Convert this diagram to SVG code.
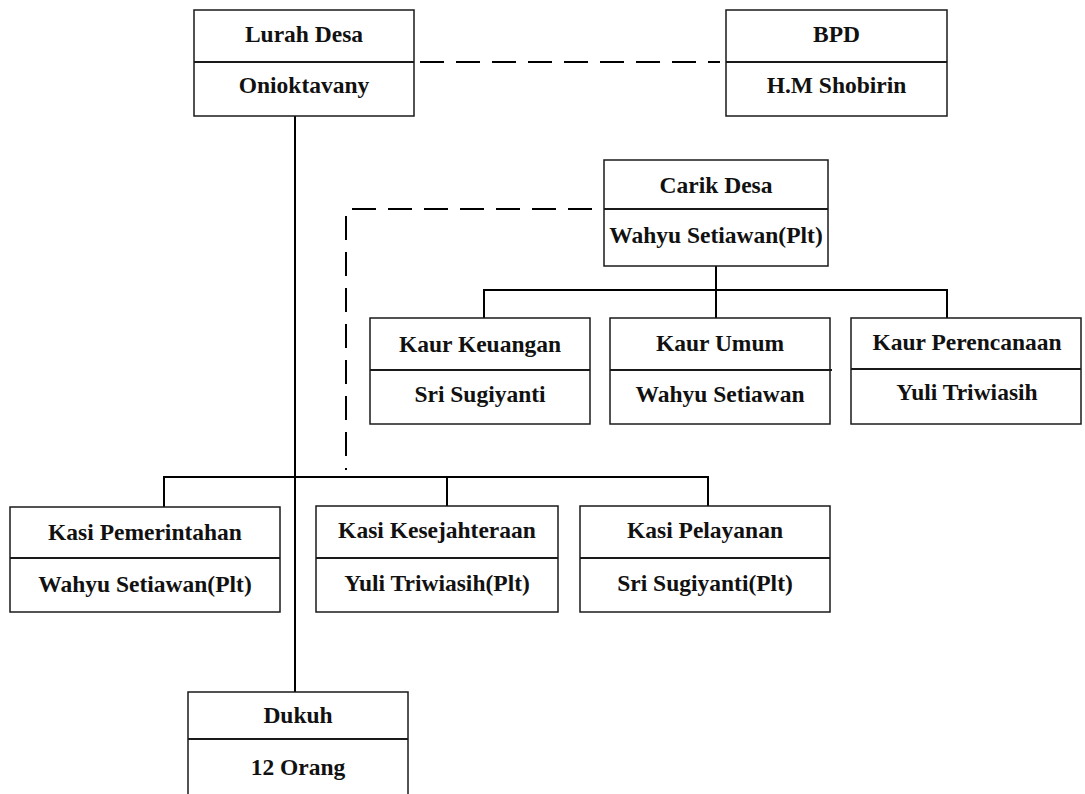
<svg xmlns="http://www.w3.org/2000/svg" width="1085" height="794" viewBox="0 0 1085 794">
<style>
.box{fill:#fff;stroke:#1a1a1a;stroke-width:1.5}
.div{stroke:#1a1a1a;stroke-width:2}
.t{font-family:"Liberation Serif","Times New Roman",serif;font-weight:bold;font-size:23.5px;fill:#111;text-anchor:middle}
.ln{stroke:#000;stroke-width:2;fill:none}
.dash{stroke:#000;stroke-width:2;fill:none;stroke-dasharray:24 12}
</style>
<rect width="1085" height="794" fill="#fff"/>
<g id="connectors">
<line class="dash" x1="420" y1="62" x2="720" y2="62"/>
<line class="ln" x1="295" y1="116" x2="295" y2="692"/>
<line class="dash" x1="592" y1="209" x2="347" y2="209"/>
<line class="dash" x1="346" y1="216" x2="346" y2="470"/>
<line class="ln" x1="716" y1="266" x2="716" y2="318"/>
<polyline class="ln" points="484,318 484,290 947,290 947,318"/>
<polyline class="ln" points="164,507 164,477 708,477 708,506"/>
<line class="ln" x1="447" y1="477" x2="447" y2="506"/>
</g>
<g id="lurah">
<rect class="box" x="194" y="10" width="220" height="106"/>
<line class="div" x1="194" y1="62" x2="414" y2="62"/>
<text class="t" x="304" y="42">Lurah Desa</text>
<text class="t" x="304" y="93">Onioktavany</text>
</g>
<g id="bpd">
<rect class="box" x="726" y="10" width="221" height="106"/>
<line class="div" x1="726" y1="62" x2="947" y2="62"/>
<text class="t" x="836.5" y="42">BPD</text>
<text class="t" x="836.5" y="93">H.M Shobirin</text>
</g>
<g id="carik">
<rect class="box" x="604" y="160" width="224" height="106"/>
<line class="div" x1="604" y1="209" x2="828" y2="209"/>
<text class="t" x="716" y="193">Carik Desa</text>
<text class="t" x="716" y="243">Wahyu Setiawan(Plt)</text>
</g>
<g id="kaur-keuangan">
<rect class="box" x="370" y="318" width="220" height="106"/>
<line class="div" x1="370" y1="370" x2="590" y2="370"/>
<text class="t" x="480" y="352">Kaur Keuangan</text>
<text class="t" x="480" y="402">Sri Sugiyanti</text>
</g>
<g id="kaur-umum">
<rect class="box" x="610" y="318" width="220" height="106"/>
<line class="div" x1="610" y1="370" x2="832" y2="370"/>
<text class="t" x="720" y="351">Kaur Umum</text>
<text class="t" x="720" y="402">Wahyu Setiawan</text>
</g>
<g id="kaur-perencanaan">
<rect class="box" x="851" y="318" width="230" height="106"/>
<line class="div" x1="851" y1="369" x2="1081" y2="369"/>
<text class="t" x="967" y="350">Kaur Perencanaan</text>
<text class="t" x="967" y="400">Yuli Triwiasih</text>
</g>
<g id="kasi-pemerintahan">
<rect class="box" x="10" y="507" width="270" height="105"/>
<line class="div" x1="10" y1="558" x2="280" y2="558"/>
<text class="t" x="145" y="540">Kasi Pemerintahan</text>
<text class="t" x="145" y="592">Wahyu Setiawan(Plt)</text>
</g>
<g id="kasi-kesejahteraan">
<rect class="box" x="316" y="506" width="242" height="106"/>
<line class="div" x1="316" y1="558" x2="558" y2="558"/>
<text class="t" x="437" y="538">Kasi Kesejahteraan</text>
<text class="t" x="437" y="591">Yuli Triwiasih(Plt)</text>
</g>
<g id="kasi-pelayanan">
<rect class="box" x="580" y="506" width="250" height="106"/>
<line class="div" x1="580" y1="558" x2="830" y2="558"/>
<text class="t" x="705" y="538">Kasi Pelayanan</text>
<text class="t" x="705" y="591">Sri Sugiyanti(Plt)</text>
</g>
<g id="dukuh">
<rect class="box" x="188" y="692" width="220" height="120"/>
<line class="div" x1="188" y1="739" x2="408" y2="739"/>
<text class="t" x="298" y="723">Dukuh</text>
<text class="t" x="298" y="775">12 Orang</text>
</g>
</svg>
